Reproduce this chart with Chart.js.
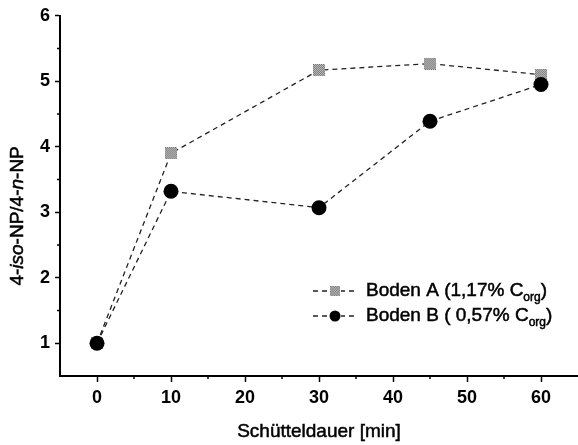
<!DOCTYPE html>
<html>
<head>
<meta charset="utf-8">
<script src="https://cdn.jsdelivr.net/npm/chart.js@4/dist/chart.umd.min.js"></script>
<style>
  html, body { margin: 0; background: #fff; }
  #wrap { width: 578px; height: 445px; }
</style>
</head>
<body>
<div id="wrap"><canvas id="chart"></canvas></div>
<script>
// Schütteldauer in min
const zeiten = [0, 10, 30, 45, 60];
// Verhältnis 4-iso-NP / 4-n-NP
const bodenA = [1.0, 3.9, 5.17, 5.27, 5.1];
const bodenB = [1.0, 3.32, 3.07, 4.39, 4.95];
const xTicks = [0, 10, 20, 30, 40, 50, 60];
const yTicks = [1, 2, 3, 4, 5, 6];
const legendA = ['Boden A (1,17% C', 'org', ')'];
const legendB = ['Boden B ( 0,57% C', 'org', ')'];

const FONT = '"Liberation Sans", Arial, sans-serif';

// gepunktetes Quadrat als Marker
function squareMarker(size) {
    const cv = document.createElement('canvas');
    cv.width = size; cv.height = size;
    const g = cv.getContext('2d');
    g.fillStyle = '#c8c8c8';
    g.fillRect(0, 0, size, size);
    g.fillStyle = '#707070';
    for (let y = 0; y < size; y++) {
        for (let x = (y % 2); x < size; x += 2) g.fillRect(x, y, 1, 1);
    }
    return cv;
}
const sq = squareMarker(12);

const toXY = (xs, ys) => xs.map((x, i) => ({ x: x, y: ys[i] }));

// Text etwas kräftiger (gefüllt + dünn nachgezogen)
function heavyText(ctx, s, x, y) {
    ctx.fillText(s, x, y);
    ctx.strokeText(s, x, y);
}

// kleine Zwischenticks + Achsentitel + Legende
const extras = {
    id: 'extras',
    afterDraw(chart) {
        const ctx = chart.ctx;
        const xs = chart.scales.x, ys = chart.scales.y;
        const ca = chart.chartArea;
        ctx.save();
        ctx.strokeStyle = '#000';
        ctx.lineWidth = 1.5;
        ctx.beginPath();
        for (let v = 5; v < xs.max; v += 10) {
            const px = xs.getPixelForValue(v);
            ctx.moveTo(px, ca.bottom); ctx.lineTo(px, ca.bottom + 3);
        }
        for (let v = 1.5; v < ys.max; v += 1) {
            const py = ys.getPixelForValue(v);
            ctx.moveTo(ca.left, py); ctx.lineTo(ca.left - 3, py);
        }
        ctx.stroke();

        ctx.fillStyle = '#000';
        ctx.strokeStyle = '#000';
        ctx.lineWidth = 0.5;

        // x-Titel
        ctx.font = '19px ' + FONT;
        ctx.textAlign = 'center';
        ctx.textBaseline = 'middle';
        heavyText(ctx, 'Schütteldauer [min]', (ca.left + ca.right) / 2, 432);

        // y-Titel mit kursiven Teilen
        const parts = [['4-', false], ['iso', true], ['-NP/4-', false], ['n', true], ['-NP', false]];
        const fnt = it => (it ? 'italic ' : '') + '19px ' + FONT;
        let total = 0;
        parts.forEach(p => { ctx.font = fnt(p[1]); total += ctx.measureText(p[0]).width; });
        ctx.save();
        ctx.translate(18, (ca.top + ca.bottom) / 2 + 20);
        ctx.rotate(-Math.PI / 2);
        ctx.textAlign = 'left';
        let x0 = -total / 2;
        parts.forEach(p => {
            ctx.font = fnt(p[1]);
            heavyText(ctx, p[0], x0, 0);
            x0 += ctx.measureText(p[0]).width;
        });
        ctx.restore();

        // Legende
        const rows = [
            { txt: legendA, y: 291, draw: (x, y) => ctx.drawImage(sq, x - 5, y - 5, 10, 10) },
            { txt: legendB, y: 316, draw: (x, y) => { ctx.beginPath(); ctx.arc(x, y, 5.5, 0, Math.PI * 2); ctx.fill(); } }
        ];
        rows.forEach(r => {
            ctx.strokeStyle = '#222';
            ctx.lineWidth = 1.3;
            ctx.setLineDash([5, 4]);
            ctx.beginPath();
            ctx.moveTo(313, r.y); ctx.lineTo(358, r.y);
            ctx.stroke();
            ctx.setLineDash([]);
            ctx.fillStyle = '#fff';
            ctx.fillRect(329, r.y - 6, 12, 12);
            ctx.fillStyle = '#000';
            r.draw(335, r.y);
            ctx.strokeStyle = '#000';
            ctx.lineWidth = 0.5;
            ctx.textBaseline = 'middle';
            ctx.textAlign = 'left';
            ctx.font = '19px ' + FONT;
            let tx = 366;
            heavyText(ctx, r.txt[0], tx, r.y);
            tx += ctx.measureText(r.txt[0]).width;
            ctx.font = '12px ' + FONT;
            heavyText(ctx, r.txt[1], tx, r.y + 7);
            tx += ctx.measureText(r.txt[1]).width;
            ctx.font = '19px ' + FONT;
            heavyText(ctx, r.txt[2], tx, r.y);
        });
        ctx.restore();
    }
};

new Chart(document.getElementById('chart'), {
    type: 'scatter',
    data: {
        datasets: [
            {
                label: 'Boden A',
                data: toXY(zeiten, bodenA),
                showLine: true,
                borderColor: '#222',
                borderWidth: 1.3,
                borderDash: [5, 4],
                pointStyle: sq,
                pointRadius: 6,
                order: 2
            },
            {
                label: 'Boden B',
                data: toXY(zeiten, bodenB),
                showLine: true,
                borderColor: '#222',
                borderWidth: 1.3,
                borderDash: [5, 4],
                pointStyle: 'circle',
                pointRadius: 7.5,
                pointBackgroundColor: '#000',
                pointBorderColor: '#000',
                pointBorderWidth: 0,
                order: 1
            }
        ]
    },
    options: {
        responsive: true,
        maintainAspectRatio: false,
        animation: false,
        layout: { autoPadding: false, padding: { top: 15, right: 0, left: 0, bottom: 0 } },
        plugins: { legend: { display: false }, tooltip: { enabled: false } },
        scales: {
            x: {
                type: 'linear',
                min: -5,
                max: 65,
                afterBuildTicks: s => { s.ticks = xTicks.map(v => ({ value: v })); },
                afterFit: s => { s.height = 69; },
                grid: { drawOnChartArea: false, drawTicks: true, tickLength: 6, tickColor: '#000', tickWidth: 1.5 },
                border: { color: '#000', width: 2 },
                ticks: { color: '#000', padding: 5, font: { family: FONT, size: 18, weight: 'bold' } }
            },
            y: {
                min: 0.5,
                max: 6,
                afterBuildTicks: s => { s.ticks = yTicks.map(v => ({ value: v })); },
                afterFit: s => { s.width = 60; },
                grid: { drawOnChartArea: false, drawTicks: true, tickLength: 5, tickColor: '#000', tickWidth: 1.5 },
                border: { color: '#000', width: 2 },
                ticks: { color: '#000', padding: 5, font: { family: FONT, size: 18, weight: 'bold' } }
            }
        }
    },
    plugins: [extras]
});
</script>
</body>
</html>
